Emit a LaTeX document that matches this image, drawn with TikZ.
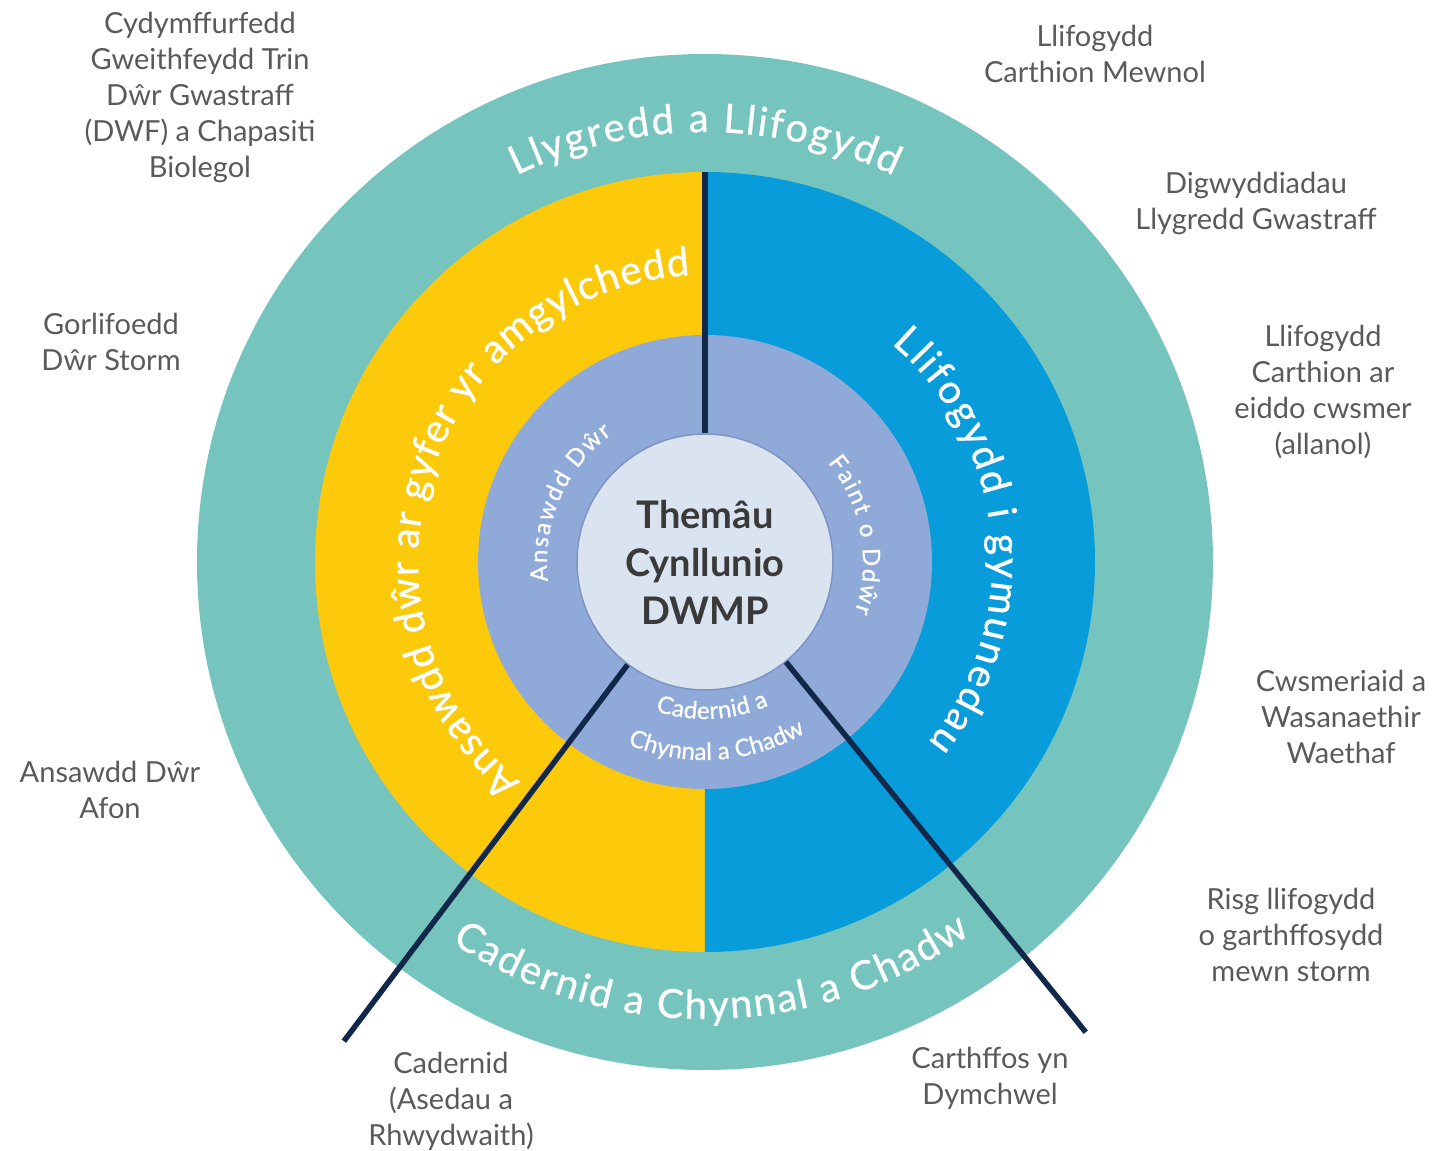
\documentclass[tikz,border=0pt]{standalone}
\usepackage{fontspec}
\setmainfont{Lato}
\newfontfamily\ringfont[FakeBold=0.7]{Lato}
\usetikzlibrary{decorations.text}
\definecolor{ringteal}{HTML}{76C4BE}
\definecolor{ringyellow}{HTML}{FDC90B}
\definecolor{ringblue}{HTML}{089CDA}
\definecolor{ringpurple}{HTML}{8FAAD8}
\definecolor{corefill}{HTML}{DAE3F0}
\definecolor{coreedge}{HTML}{7E93C2}
\definecolor{navyline}{HTML}{12284B}
\definecolor{labelgray}{HTML}{5A5A5A}
\definecolor{coretext}{HTML}{3A3A3A}
\newcommand{\bigring}{\ringfont\fontsize{40}{40}\selectfont}
\newcommand{\smallring}{\ringfont\fontsize{24}{24}\selectfont}
\begin{document}
\begin{tikzpicture}[x=1pt,y=1pt,
  lbl/.style={text=labelgray, font=\fontsize{29}{36}\selectfont, align=center, inner sep=0pt},
  spoke/.style={draw=navyline, line width=5.5pt},
  ringtext/.style={decorate, decoration={text along path, text align={fit to path}, text color=white, text={#1}}}
]
\useasboundingbox (-705,-589) rectangle (731,562);
% rings
\fill[ringteal] (0,0) circle[radius=508];
\fill[ringyellow] (0,390) arc[start angle=90,end angle=270,radius=390] -- cycle;
\fill[ringblue] (0,390) arc[start angle=90,end angle=-90,radius=390] -- cycle;
\fill[ringpurple] (0,0) circle[radius=227];
% core
\node[circle, fill=corefill, draw=coreedge, line width=1.5pt, minimum size=256pt, inner sep=0pt,
      align=center, text=coretext, font=\bfseries\fontsize{38}{48}\selectfont] (core) at (0,0)
      {Themâu\\Cynllunio\\DWMP};
% spokes
\coordinate (topend) at (90:390);
\coordinate (leftend) at (233:600);
\coordinate (rightend) at (-51:605);
\draw[spoke] (core.north) -- (topend);
\draw[spoke] (core.233) -- (leftend);
\draw[spoke] (core.-51) -- (rightend);
% ring texts
\path[ringtext={|\bigring|Llygredd a Llifogydd}] (116:430) arc[start angle=116,end angle=64,radius=430];
\path[ringtext={|\bigring|Cadernid a Chynnal a Chadw}] (236.3:457) arc[start angle=236.3,end angle=305.5,radius=457];
\path[ringtext={|\bigring|Ansawdd dŵr ar gyfer yr amgylchedd}] (230:287) arc[start angle=230,end angle=93,radius=287];
\path[ringtext={|\bigring|Llifogydd i gymunedau}] (49.5:287) arc[start angle=49.5,end angle=-39,radius=287];
\path[ringtext={|\smallring|Ansawdd Dŵr}] (187:158) arc[start angle=187,end angle=126,radius=158];
\path[ringtext={|\smallring|Faint o Ddŵr}] (39:158) arc[start angle=39,end angle=-18.5,radius=158];
\path[ringtext={|\smallring|Cadernid a}] (251.6:157) arc[start angle=251.6,end angle=294,radius=157];
\path[ringtext={|\smallring|Chynnal a Chadw}] (247:198) arc[start angle=247,end angle=300.5,radius=198];
% outer labels
\node[lbl] (l1) at (-505,465) {Cydymffurfedd\\Gweithfeydd Trin\\Dŵr Gwastraff\\(DWF) a Chapasiti\\Biolegol};
\node[lbl] (l2) at (390,508.5) {Llifogydd\\Carthion Mewnol};
\node[lbl] (l3) at (551,358.5) {Digwyddiadau\\Llygredd Gwastraff};
\node[lbl] (l4) at (-594,220.5) {Gorlifoedd\\Dŵr Storm};
\node[lbl] (l5) at (618,170.5) {Llifogydd\\Carthion ar\\eiddo cwsmer\\(allanol)};
\node[lbl] (l6) at (636,-155) {Cwsmeriaid a\\Wasanaethir\\Waethaf};
\node[lbl] (l7) at (-595,-228) {Ansawdd Dŵr\\Afon};
\node[lbl] (l8) at (586,-372.5) {Risg llifogydd\\o garthffosydd\\mewn storm};
\node[lbl] (l9) at (-254,-539) {Cadernid\\(Asedau a\\Rhwydwaith)};
\node[lbl] (l10) at (285,-516.5) {Carthffos yn\\Dymchwel};
\end{tikzpicture}
\end{document}
